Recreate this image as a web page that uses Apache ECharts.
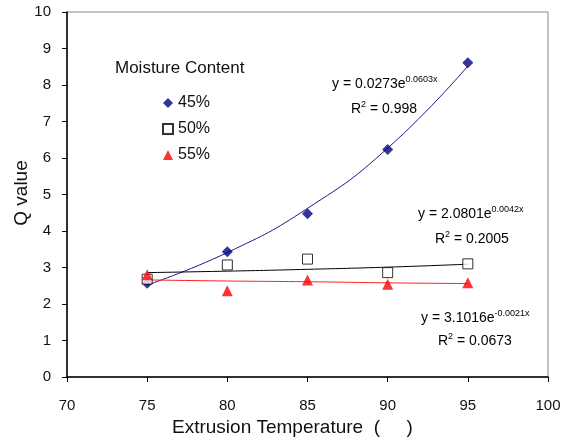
<!DOCTYPE html>
<html>
<head>
<meta charset="utf-8">
<script src="https://cdn.jsdelivr.net/npm/echarts@6/dist/echarts.min.js"></script>
<style>
  html, body { margin: 0; padding: 0; background: #fff; }
  #chart { width: 567px; height: 443px; }
</style>
</head>
<body>
<div id="chart"></div>
<script>
// measured points
const temps = [75, 80, 85, 90, 95];
const q45 = [2.57, 3.43, 4.47, 6.23, 8.61];
const q50 = [2.68, 3.07, 3.23, 2.86, 3.10];
const q55 = [2.80, 2.36, 2.66, 2.54, 2.58];

// exponential trend lines
const trend45 = [2.52, 3.41, 4.62, 6.27, 8.52];
const trend50 = [2.86, 2.90, 2.95, 3.01, 3.09];
const trend55 = [2.66, 2.63, 2.61, 2.58, 2.56];

const xTicks = [70, 75, 80, 85, 90, 95, 100];
const yTicks = [0, 1, 2, 3, 4, 5, 6, 7, 8, 9, 10];

const font = 'Liberation Sans, Arial, sans-serif';
const pair = (xs, ys) => xs.map((x, i) => [x, ys[i]]);

const chart = echarts.init(document.getElementById('chart'));

const eqRich = {
  n: { fontSize: 14, fontFamily: font, color: '#111', lineHeight: 18 },
  s: { fontSize: 9, fontFamily: font, color: '#111', padding: [0, 0, 9, 0] }
};

const option = {
  animation: false,
  backgroundColor: '#fff',
  grid: { left: 67, top: 12, width: 481, height: 365, show: true, borderColor: '#888', borderWidth: 1 },
  xAxis: {
    type: 'value',
    min: xTicks[0],
    max: xTicks[xTicks.length - 1],
    interval: 5,
    axisLine: { lineStyle: { color: '#000', width: 1.5 } },
    axisTick: { show: true, inside: false, length: 5, lineStyle: { color: '#000' } },
    axisLabel: { margin: 21, fontSize: 15, fontFamily: font, color: '#111' },
    splitLine: { show: false }
  },
  yAxis: {
    type: 'value',
    min: yTicks[0],
    max: yTicks[yTicks.length - 1],
    interval: 1,
    axisLine: { show: true, lineStyle: { color: '#000', width: 1.5 } },
    axisTick: { show: true, inside: false, length: 5, lineStyle: { color: '#000' } },
    axisLabel: { margin: 16, fontSize: 15, fontFamily: font, color: '#111' },
    splitLine: { show: false }
  },
  legend: {
    data: ['45%', '50%', '55%'],
    orient: 'vertical',
    left: 157,
    top: 90,
    itemWidth: 10,
    itemHeight: 10,
    itemGap: 10,
    textStyle: { fontSize: 16, fontFamily: font, color: '#111', lineHeight: 16 }
  },
  series: [
    { name: 't45', type: 'line', data: pair(temps, trend45), smooth: true, showSymbol: false,
      lineStyle: { color: '#1a1a90', width: 1 }, z: 1, silent: true },
    { name: 't50', type: 'line', data: pair(temps, trend50), smooth: true, showSymbol: false,
      lineStyle: { color: '#000', width: 1 }, z: 1, silent: true },
    { name: 't55', type: 'line', data: pair(temps, trend55), smooth: true, showSymbol: false,
      lineStyle: { color: '#ff2020', width: 1 }, z: 1, silent: true },
    { name: '45%', type: 'scatter', data: pair(temps, q45), symbol: 'diamond', symbolSize: 11,
      itemStyle: { color: '#000080' }, z: 3 },
    { name: '50%', type: 'scatter', data: pair(temps, q50), symbol: 'rect', symbolSize: 10,
      itemStyle: { color: '#fff', borderColor: '#000', borderWidth: 1 }, z: 3 },
    { name: '55%', type: 'scatter', data: pair(temps, q55), symbol: 'triangle', symbolSize: 11,
      itemStyle: { color: '#ff0000' }, z: 3 }
  ],
  graphic: [
    { type: 'text', left: 115, top: 60,
      style: { text: 'Moisture Content', fontSize: 17, fontFamily: font, fill: '#111' } },
    { type: 'text', left: 332, top: 75,
      style: { text: '{n|y = 0.0273e}{s|0.0603x}', rich: eqRich } },
    { type: 'text', left: 351, top: 100,
      style: { text: '{n|R}{s|2}{n| = 0.998}', rich: eqRich } },
    { type: 'text', left: 418, top: 205,
      style: { text: '{n|y = 2.0801e}{s|0.0042x}', rich: eqRich } },
    { type: 'text', left: 435, top: 230,
      style: { text: '{n|R}{s|2}{n| = 0.2005}', rich: eqRich } },
    { type: 'text', left: 421, top: 309,
      style: { text: '{n|y = 3.1016e}{s|-0.0021x}', rich: eqRich } },
    { type: 'text', left: 438, top: 332,
      style: { text: '{n|R}{s|2}{n| = 0.0673}', rich: eqRich } },
    { type: 'text', left: 172, top: 418,
      style: { text: 'Extrusion Temperature  (     )', fontSize: 19, fontFamily: font, fill: '#111' } },
    { type: 'text', x: 22, y: 193, rotation: Math.PI / 2,
      style: { text: 'Q value', fontSize: 19, fontFamily: font, fill: '#111', align: 'center', verticalAlign: 'middle' } }
  ]
};

chart.setOption(option);
</script>
</body>
</html>
